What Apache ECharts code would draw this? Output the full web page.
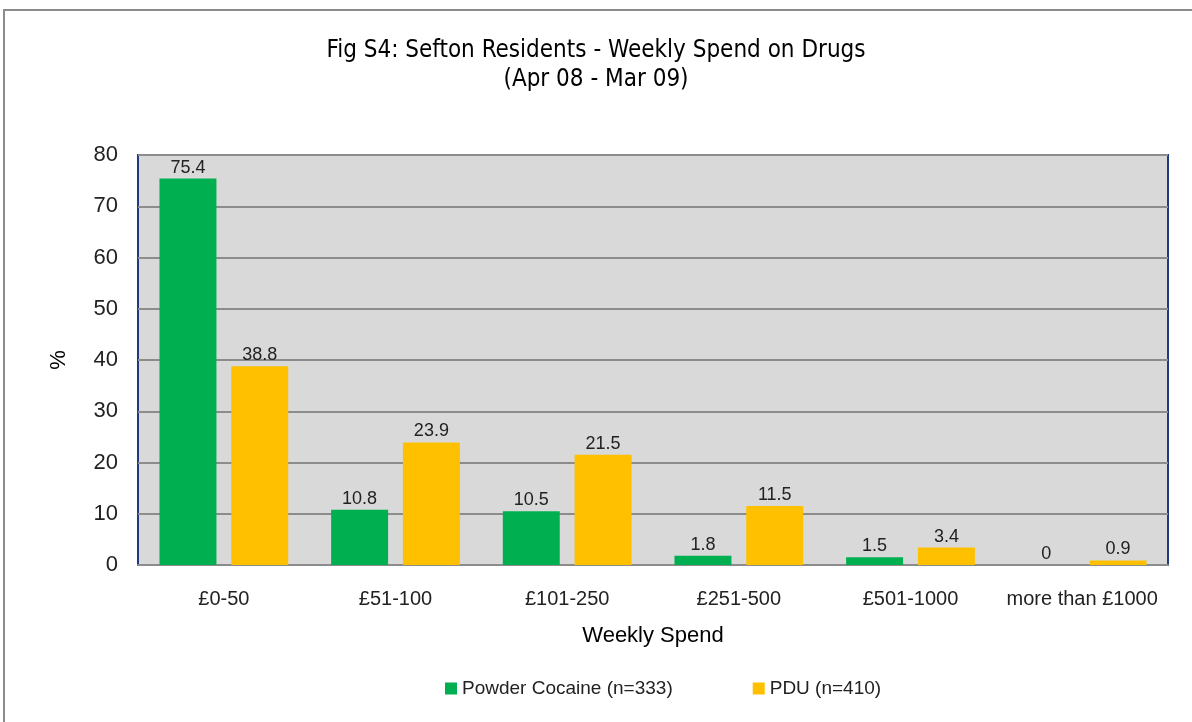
<!DOCTYPE html>
<html>
<head>
    <meta charset="utf-8">
    <title>Fig S4</title>
    <script src="https://cdn.jsdelivr.net/npm/echarts@6/dist/echarts.min.js"></script>
    <style>
        html, body { margin: 0; padding: 0; background: #fff; }
        #chart1 { width: 1192px; height: 722px; }
    </style>
</head>
<body>
<div id="chart1"></div>
<script type="text/javascript">
    // 数据
    var categories = ['£0-50', '£51-100', '£101-250', '£251-500', '£501-1000', 'more than £1000'];
    var cocaine = [75.4, 10.8, 10.5, 1.8, 1.5, 0];
    var pdu = [38.8, 23.9, 21.5, 11.5, 3.4, 0.9];
    var seriesNames = ['Powder Cocaine (n=333)', 'PDU (n=410)'];

    var myChart1 = echarts.init(document.getElementById('chart1'));
    var font = 'Liberation Sans, Arial, sans-serif';

    var label = {
        show: true,
        position: 'top',
        distance: 2,
        color: '#222',
        fontSize: 18,
        fontFamily: font
    };

    myChart1.setOption({
        animation: false,
        graphic: [{
            type: 'rect',
            shape: { x: 4, y: 10, width: 1200, height: 720 },
            style: { fill: 'none', stroke: '#8c8c8c', lineWidth: 2 },
            z: -1
        }],
        title: {
            text: 'Fig S4: Sefton Residents - Weekly Spend on Drugs\n(Apr 08 - Mar 09)',
            left: 'center',
            top: 31,
            textStyle: {
                fontFamily: '"DejaVu Sans Condensed", "Liberation Sans", sans-serif',
                fontWeight: 'normal',
                fontSize: 24,
                lineHeight: 29,
                color: '#000'
            }
        },
        legend: {
            data: seriesNames,
            bottom: 19,
            left: 440,
            itemWidth: 12,
            itemHeight: 12,
            itemGap: 80,
            icon: 'rect',
            textStyle: { fontFamily: font, fontSize: 19, color: '#222' }
        },
        grid: {
            left: 138,
            right: 24,
            top: 155,
            bottom: 157,
            show: true,
            backgroundColor: '#d9d9d9',
            borderColor: '#1f3a80',
            borderWidth: 2
        },
        xAxis: {
            type: 'category',
            data: categories,
            name: 'Weekly Spend',
            nameLocation: 'middle',
            nameGap: 60,
            nameTextStyle: { fontFamily: font, fontSize: 22, color: '#000' },
            axisLine: { lineStyle: { color: '#8c8c8c', width: 2 } },
            axisTick: { show: false },
            axisLabel: { interval: 0, fontFamily: font, fontSize: 20, color: '#222', margin: 24 }
        },
        yAxis: {
            type: 'value',
            min: 0,
            max: 80,
            interval: 10,
            name: '%',
            nameLocation: 'middle',
            nameGap: 68,
            nameRotate: 90,
            nameTextStyle: { fontFamily: font, fontSize: 22, color: '#000' },
            axisLine: { show: false },
            axisTick: { show: false },
            axisLabel: { fontFamily: font, fontSize: 22, color: '#222', margin: 20 },
            splitLine: { lineStyle: { color: '#8c8c8c', width: 2 } }
        },
        series: [{
            name: seriesNames[0],
            type: 'bar',
            data: cocaine,
            barGap: '26%',
            barCategoryGap: '25%',
            itemStyle: { color: '#00b050' },
            label: label
        }, {
            name: seriesNames[1],
            type: 'bar',
            data: pdu,
            itemStyle: { color: '#ffc000' },
            label: label
        }]
    });
</script>
</body>
</html>
